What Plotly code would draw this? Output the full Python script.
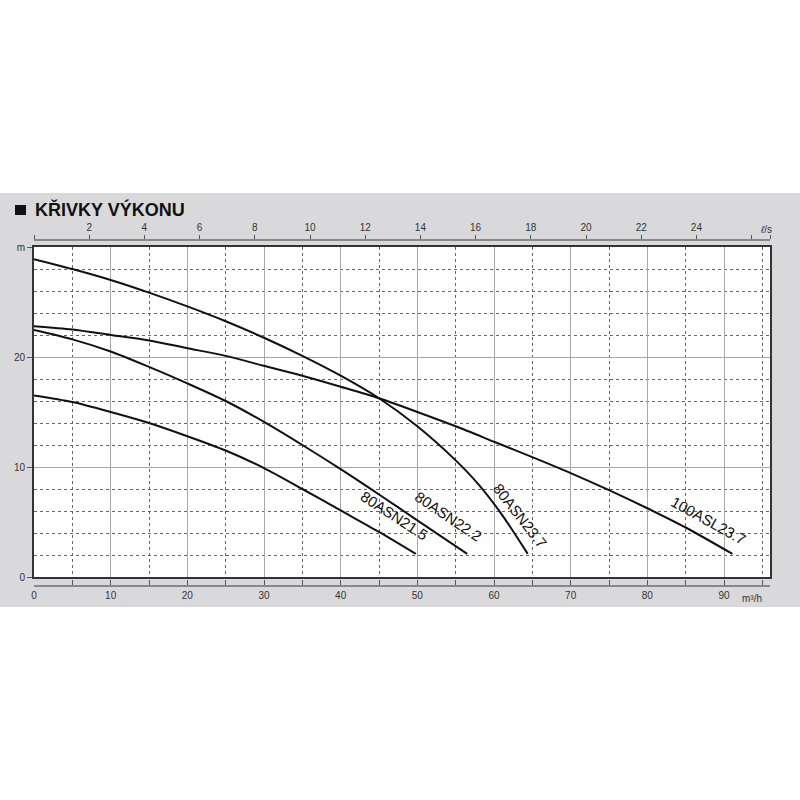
import plotly.graph_objects as go

# pump curves: flow Q (m3/h) -> head H (m)
q_215 = [0, 5, 10, 15, 20, 25, 30, 35, 40, 45, 49.8]
h_215 = [16.5, 15.9, 15.0, 14.0, 12.8, 11.5, 9.9, 8.0, 6.05, 4.1, 2.1]

q_222 = [0, 5, 10, 15, 20, 25, 30, 35, 40, 45, 50, 56.5]
h_222 = [22.45, 21.6, 20.5, 19.1, 17.6, 16.0, 14.1, 12.0, 9.8, 7.5, 5.15, 2.1]

q_237 = [0, 5, 10, 15, 20, 25, 30, 35, 40, 45, 50, 55, 58, 61, 64.4]
h_237 = [28.9, 28.0, 27.0, 25.85, 24.6, 23.25, 21.75, 20.1, 18.3, 16.25, 13.7, 10.6, 8.4, 5.7, 2.1]

q_asl = [0, 5, 10, 15, 20, 25, 30, 35, 40, 45, 50, 55, 60, 65, 70, 75, 80, 85, 91.1]
h_asl = [22.8, 22.5, 22.0, 21.5, 20.8, 20.1, 19.2, 18.3, 17.3, 16.25, 15.0, 13.7, 12.3, 10.9, 9.45, 7.9, 6.25, 4.5, 2.1]

curves = [
    ("80ASN21.5", q_215, h_215, 47.0, 5.6, 33),
    ("80ASN22.2", q_222, h_222, 54.1, 5.5, 34),
    ("80ASN23.7", q_237, h_237, 63.4, 5.6, 52),
    ("100ASL23.7", q_asl, h_asl, 88.0, 5.1, 29),
]

q_max = 96
ls_ticks = [0, 2, 4, 6, 8, 10, 12, 14, 16, 18, 20, 22, 24, 26, q_max / 3.6]
ls_text = ["", "2", "4", "6", "8", "10", "12", "14", "16", "18", "20", "22", "24", "", ""]
m3h_ticks = list(range(0, 100, 5))
m3h_text = [str(v) if v % 10 == 0 else "" for v in m3h_ticks]

W = H = 800
FONT = "Liberation Sans, Arial, sans-serif"


def px(v):
    return v / W


def py(v):
    return 1 - v / H


fig = go.Figure()

for name, q, h, lx, ly, ang in curves:
    fig.add_trace(go.Scatter(x=q, y=h, mode="lines", name=name,
                             line=dict(color="#111", width=2, shape="spline", smoothing=0.8),
                             showlegend=False, hoverinfo="skip"))
    fig.add_annotation(x=lx, y=ly, text=name, showarrow=False, textangle=ang,
                       font=dict(family=FONT, size=15, color="#111"))

# dummy traces so the extra axes get drawn
fig.add_trace(go.Scatter(x=[0], y=[0], xaxis="x2", mode="markers", marker=dict(opacity=0),
                         showlegend=False, hoverinfo="skip"))
fig.add_trace(go.Scatter(x=[0], y=[0], xaxis="x3", mode="markers", marker=dict(opacity=0),
                         showlegend=False, hoverinfo="skip"))

tick_font = dict(family=FONT, size=10, color="#333")

fig.update_layout(
    width=W, height=H,
    margin=dict(l=0, r=0, t=0, b=0, autoexpand=False),
    paper_bgcolor="white",
    plot_bgcolor="white",
    xaxis=dict(
        domain=[px(34), px(770)], range=[0, q_max], automargin=False,
        showticklabels=False, ticks="",
        showgrid=True, dtick=10, gridcolor="#a8a8a8", gridwidth=1,
        minor=dict(dtick=5, showgrid=True, gridcolor="#666", griddash="dot", gridwidth=1),
        showline=True, linecolor="#333", linewidth=2, mirror=True, zeroline=False,
    ),
    yaxis=dict(
        domain=[py(577), py(247)], range=[0, 30], automargin=False,
        tickvals=[0, 10, 20, 30], ticktext=["0", "10", "20", "m"],
        ticks="outside", ticklen=5, tickcolor="#555", tickfont=tick_font,
        showgrid=True, gridcolor="#a8a8a8", gridwidth=1,
        minor=dict(dtick=2, showgrid=True, gridcolor="#666", griddash="dot", gridwidth=1),
        showline=True, linecolor="#333", linewidth=2, mirror=True, zeroline=False,
    ),
    xaxis2=dict(
        overlaying="x", anchor="free", position=py(240), side="top", automargin=False,
        range=[0, q_max / 3.6], tickvals=ls_ticks, ticktext=ls_text,
        ticks="outside", ticklen=4, tickcolor="#555", tickfont=tick_font,
        showline=True, linecolor="#888", linewidth=2, showgrid=False, zeroline=False,
    ),
    xaxis3=dict(
        overlaying="x", anchor="free", position=py(586), side="bottom", automargin=False,
        range=[0, q_max], tickvals=m3h_ticks, ticktext=m3h_text,
        ticks="inside", ticklen=5, tickcolor="#555", tickfont=tick_font,
        showline=True, linecolor="#888", linewidth=2, showgrid=False, zeroline=False,
    ),
    shapes=[
        dict(type="rect", xref="paper", yref="paper", x0=0, x1=1, y0=py(607), y1=py(193),
             fillcolor="#d9d9db", line=dict(width=0), layer="below"),
        dict(type="rect", xref="paper", yref="paper", x0=px(34), x1=px(770), y0=py(577), y1=py(247),
             fillcolor="white", line=dict(width=0), layer="below"),
        dict(type="rect", xref="paper", yref="paper", x0=px(15), x1=px(26), y0=py(215), y1=py(205),
             fillcolor="#111", line=dict(width=0)),
    ],
    annotations=list(fig.layout.annotations) + [
        dict(xref="paper", yref="paper", x=px(33), y=py(210), text="<b>KŘIVKY VÝKONU</b>",
             showarrow=False, xanchor="left", yanchor="middle",
             font=dict(family=FONT, size=18, color="#111")),
        dict(xref="paper", yref="paper", x=px(766), y=py(229), text="<i>ℓ</i>/s",
             showarrow=False, xanchor="center", yanchor="middle",
             font=dict(family=FONT, size=10, color="#333")),
        dict(xref="paper", yref="paper", x=px(752), y=py(598), text="m³/h",
             showarrow=False, xanchor="center", yanchor="middle",
             font=dict(family=FONT, size=10, color="#333")),
    ],
)

# page body has a default 8px margin, drop it so the figure sits at 0,0
fig.write_html("out.html", config={"displayModeBar": False},
               post_script="document.body.style.margin='0';document.body.style.overflow='hidden';")
